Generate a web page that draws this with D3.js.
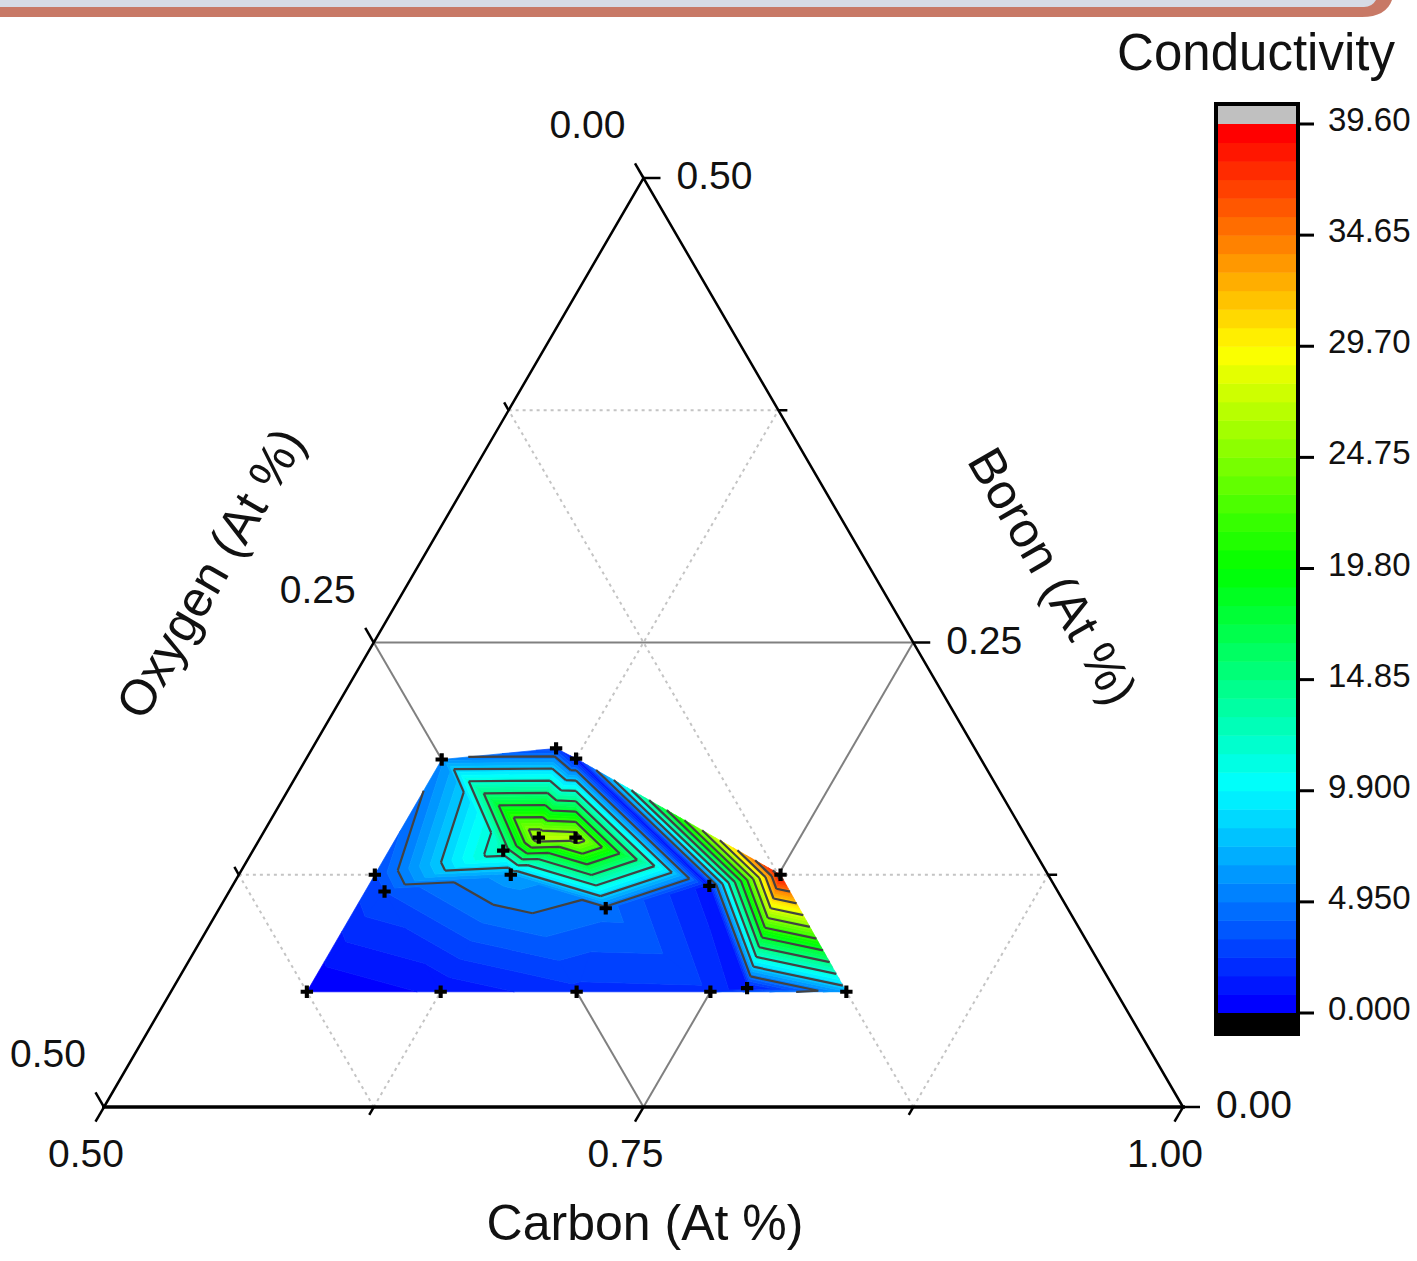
<!DOCTYPE html>
<html>
<head>
<meta charset="utf-8">
<title>Conductivity - ternary contour</title>
<script src="https://cdn.jsdelivr.net/npm/d3@7"></script>
<style>
  body { margin: 0; background: #fff; }
  svg text { font-family: "Liberation Sans", Arial, sans-serif; fill: #111; }
</style>
</head>
<body>
<svg id="chart" width="1417" height="1261"></svg>
<script>
// measured samples: composition (atomic fraction) and conductivity
var carbon  = [0.563, 0.613, 0.625, 0.629, 0.646, 0.616, 0.563, 0.572, 0.626, 0.751, 0.721, 0.679, 0.563, 0.625, 0.688, 0.750, 0.766, 0.813];
var oxygen  = [0.250, 0.194, 0.1875, 0.226, 0.209, 0.246, 0.312, 0.312, 0.249, 0.124, 0.160, 0.214, 0.375, 0.313, 0.250, 0.188, 0.170, 0.125];
var boron   = [0.187, 0.193, 0.1875, 0.145, 0.145, 0.138, 0.125, 0.116, 0.125, 0.125, 0.119, 0.107, 0.062, 0.062, 0.062, 0.062, 0.064, 0.062];
var conductivity = [5.6, 2.8, 1.2, 27.0, 26.5, 13.0, 3.2, 3.3, 6.3, 39.4, 1.2, 4.5, 0.0, 1.0, 2.2, 2.3, 1.0, 6.5];

// axis ticks
var carbonTicks = [0.50, 0.75, 1.00];
var oxygenTicks = [0.50, 0.25, 0.00];
var boronTicks  = [0.00, 0.25, 0.50];
var carbonMinor = [0.625, 0.875];
var oxygenMinor = [0.125, 0.375];
var boronMinor  = [0.125, 0.375];

// colour scale / levels
var levelMin = 0, levelMax = 39.6, nLevels = 48;
var lineLevels = [4.95, 8.25, 11.55, 14.85, 18.15, 21.45, 24.75, 28.05, 31.35, 34.65, 37.95];
var cbTicks  = [0, 4.95, 9.9, 14.85, 19.8, 24.75, 29.7, 34.65, 39.6];
var cbLabels = ["0.000", "4.950", "9.900", "14.85", "19.80", "24.75", "29.70", "34.65", "39.60"];

var svg = d3.select("#chart");

// window frame strip at the very top
svg.append("path").attr("d", "M0,0 H1392 Q1386,17 1362,17 H0 Z").attr("fill", "#c87966");
svg.append("path").attr("d", "M0,0 H1376 Q1372,7 1364,7 H0 Z").attr("fill", "#d6dbe5");

// ternary -> pixel
var xs = d3.scaleLinear().domain([0.5, 1.0]).range([104, 1183]);
var ys = d3.scaleLinear().domain([0, 0.5]).range([1107, 178]);
function P(c, b) { return [xs(c + b / 2), ys(b)]; }

var step = (levelMax - levelMin) / nLevels;
var colorMap = d3.scaleLinear()
  .domain([0, 9.9, 19.8, 29.7, 39.6])
  .range(["#0000ff", "#00ffff", "#00ff00", "#ffff00", "#ff0000"]);
function bandColor(i) { return colorMap(levelMin + i * (levelMax - levelMin) / (nLevels - 1)); }

// grid
var grid = svg.append("g");
function gridLine(p, q, major) {
  grid.append("line")
    .attr("x1", p[0]).attr("y1", p[1]).attr("x2", q[0]).attr("y2", q[1])
    .attr("stroke", major ? "#808080" : "#c4c4c4")
    .attr("stroke-width", 2)
    .attr("stroke-dasharray", major ? null : "3,4");
}
[0.125, 0.25, 0.375].forEach(function(v) {
  var major = v === 0.25;
  gridLine(P(0.5, v), P(1 - v, v), major);          // constant boron
  gridLine(P(0.5 + v, 0), P(0.5 + v, 0.5 - v), major); // constant carbon
  gridLine(P(1 - v, 0), P(0.5, 0.5 - v), major);      // constant oxygen
});

// samples in pixel space
var pts = carbon.map(function(c, i) {
  var s = c + oxygen[i] + boron[i];
  var p = P(c / s, boron[i] / s);
  return { x: p[0], y: p[1], v: conductivity[i] };
});
var delaunay = d3.Delaunay.from(pts, function(d) { return d.x; }, function(d) { return d.y; });
var tris = [];
for (var t = 0; t < delaunay.triangles.length; t += 3) {
  tris.push([pts[delaunay.triangles[t]], pts[delaunay.triangles[t + 1]], pts[delaunay.triangles[t + 2]]]);
}

function clip(poly, level, keepAbove) {
  var out = [];
  for (var i = 0; i < poly.length; i++) {
    var a = poly[i], b = poly[(i + 1) % poly.length];
    var ina = keepAbove ? a.v >= level : a.v <= level;
    var inb = keepAbove ? b.v >= level : b.v <= level;
    if (ina !== inb) {
      var k = (level - a.v) / (b.v - a.v);
      out.push({ x: a.x + k * (b.x - a.x), y: a.y + k * (b.y - a.y), v: level });
    }
    if (inb) out.push(b);
  }
  return out;
}

// filled bands
var fills = svg.append("g");
for (var i = 0; i < nLevels; i++) {
  var lo = i === 0 ? -Infinity : levelMin + i * step;
  var hi = i === nLevels - 1 ? Infinity : levelMin + (i + 1) * step;
  var d = "";
  tris.forEach(function(tr) {
    var poly = clip(clip(tr, lo, true), hi, false);
    if (poly.length > 2) {
      d += "M" + poly.map(function(p) { return p.x + "," + p.y; }).join("L") + "Z";
    }
  });
  if (d) {
    fills.append("path").attr("d", d)
      .attr("fill", bandColor(i))
      .attr("stroke", bandColor(i))
      .attr("stroke-width", 0.7)
      .attr("stroke-linejoin", "round");
  }
}

// contour lines
var lines = svg.append("g");
lineLevels.forEach(function(L) {
  var d = "";
  tris.forEach(function(tr) {
    var seg = [];
    for (var e = 0; e < 3; e++) {
      var a = tr[e], b = tr[(e + 1) % 3];
      if ((a.v < L) !== (b.v < L)) {
        var k = (L - a.v) / (b.v - a.v);
        seg.push([a.x + k * (b.x - a.x), a.y + k * (b.y - a.y)]);
      }
    }
    if (seg.length === 2) d += "M" + seg[0] + "L" + seg[1];
  });
  lines.append("path").attr("d", d)
    .attr("fill", "none").attr("stroke", "#424242").attr("stroke-width", 2.2);
});

// triangle frame
var BL = P(0.5, 0), BR = P(1, 0), TOP = P(0.5, 0.5);
svg.append("path").attr("d", "M" + BL + "L" + TOP + "L" + BR)
  .attr("fill", "none").attr("stroke", "#000").attr("stroke-width", 2.5);
svg.append("line").attr("x1", BL[0] - 2).attr("y1", BL[1]).attr("x2", BR[0] + 2).attr("y2", BR[1])
  .attr("stroke", "#000").attr("stroke-width", 3.5);

// ticks
var ticks = svg.append("g").attr("stroke", "#000").attr("stroke-width", 2.5);
var cdir = [-0.5, 0.866], odir = [-0.5, -0.866], bdir = [1, 0];
function tick(p, dir, len) {
  ticks.append("line").attr("x1", p[0]).attr("y1", p[1])
    .attr("x2", p[0] + dir[0] * len).attr("y2", p[1] + dir[1] * len);
}
carbonTicks.forEach(function(c) { tick(P(c, 0), cdir, 17); });
carbonMinor.forEach(function(c) { tick(P(c, 0), cdir, 9); });
oxygenTicks.forEach(function(o) { tick(P(0.5, 0.5 - o), odir, 17); });
oxygenMinor.forEach(function(o) { tick(P(0.5, 0.5 - o), odir, 9); });
boronTicks.forEach(function(b) { tick(P(1 - b, b), bdir, 17); });
boronMinor.forEach(function(b) { tick(P(1 - b, b), bdir, 9); });

// tick labels
var labels = svg.append("g").attr("font-size", 39);
carbonTicks.forEach(function(c) {
  var p = P(c, 0);
  labels.append("text").attr("x", p[0] - 18).attr("y", p[1] + 60)
    .attr("text-anchor", "middle").text(c.toFixed(2));
});
oxygenTicks.forEach(function(o) {
  var p = P(0.5, 0.5 - o);
  labels.append("text").attr("x", p[0] - 56).attr("y", p[1] - 40)
    .attr("text-anchor", "middle").text(o.toFixed(2));
});
boronTicks.forEach(function(b) {
  var p = P(1 - b, b);
  labels.append("text").attr("x", p[0] + 33).attr("y", p[1] + 11)
    .attr("text-anchor", "start").text(b.toFixed(2));
});

// sample markers
svg.append("g").selectAll("path").data(pts).join("path")
  .attr("transform", function(d) { return "translate(" + d.x + "," + d.y + ")"; })
  .attr("d", d3.symbol(d3.symbolCross).size(85))
  .attr("fill", "#000");

// axis titles
svg.append("text").attr("x", 645).attr("y", 1240).attr("text-anchor", "middle")
  .attr("font-size", 50).text("Carbon (At %)");
svg.append("text").attr("transform", "translate(210,573) rotate(-60)")
  .attr("text-anchor", "middle").attr("dy", "0.35em")
  .attr("font-size", 50).text("Oxygen (At %)");
svg.append("text").attr("transform", "translate(1053,576) rotate(60)")
  .attr("text-anchor", "middle").attr("dy", "0.35em")
  .attr("font-size", 50).text("Boron (At %)");

// colour bar
var cb = d3.scaleLinear().domain([levelMin, levelMax]).range([1013, 124]);
var bar = svg.append("g");
for (var j = 0; j < nLevels; j++) {
  bar.append("rect").attr("x", 1216).attr("width", 82)
    .attr("y", cb(levelMin + (j + 1) * step))
    .attr("height", cb(levelMin + j * step) - cb(levelMin + (j + 1) * step) + 0.5)
    .attr("fill", bandColor(j));
}
bar.append("rect").attr("x", 1216).attr("width", 82).attr("y", 104).attr("height", cb(levelMax) - 104).attr("fill", "#c0c0c0");
bar.append("rect").attr("x", 1216).attr("width", 82).attr("y", cb(levelMin)).attr("height", 1034 - cb(levelMin)).attr("fill", "#000");
bar.append("rect").attr("x", 1216).attr("y", 104).attr("width", 82).attr("height", 930)
  .attr("fill", "none").attr("stroke", "#000").attr("stroke-width", 4);
cbTicks.forEach(function(v, k) {
  bar.append("line").attr("x1", 1298).attr("x2", 1314).attr("y1", cb(v)).attr("y2", cb(v))
    .attr("stroke", "#000").attr("stroke-width", 3);
  bar.append("text").attr("x", 1328).attr("y", cb(v) + 7).attr("font-size", 33)
    .text(cbLabels[k]);
});
svg.append("text").attr("x", 1256).attr("y", 70).attr("text-anchor", "middle")
  .attr("font-size", 51).text("Conductivity");
</script>
</body>
</html>
